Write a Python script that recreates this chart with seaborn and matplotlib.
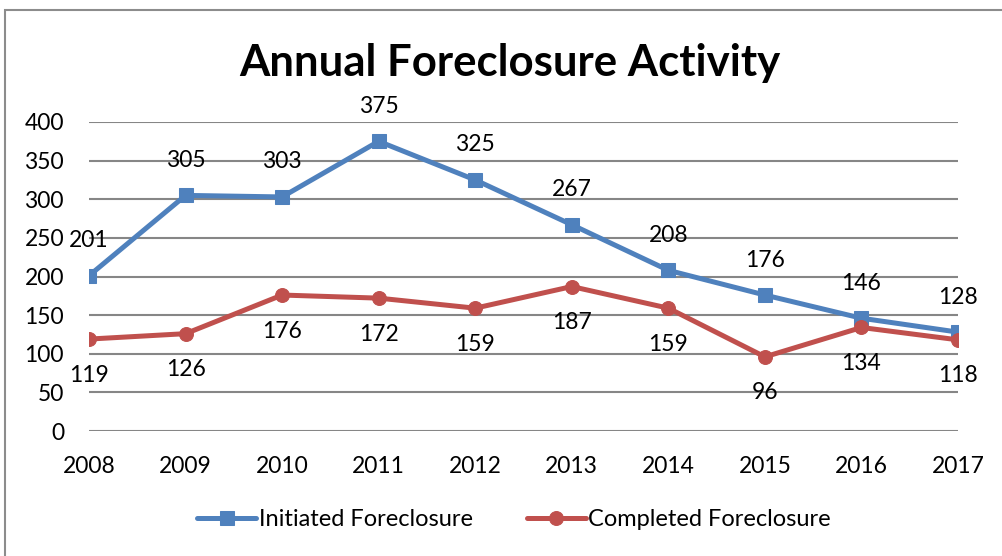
import pandas as pd
import matplotlib
matplotlib.use("Agg")
import matplotlib.pyplot as plt
import seaborn as sns
from matplotlib.patches import Rectangle

# chart data
years = ["2008", "2009", "2010", "2011", "2012", "2013", "2014", "2015", "2016", "2017"]
initiated = [201, 305, 303, 375, 325, 267, 208, 176, 146, 128]
completed = [119, 126, 176, 172, 159, 187, 159, 96, 134, 118]
y_ticks = [0, 50, 100, 150, 200, 250, 300, 350, 400]

df = pd.DataFrame({"pos": range(len(years)), "Initiated": initiated, "Completed": completed})

sns.set_style("white", {"text.color": "black", "xtick.color": "black", "ytick.color": "black"})
plt.rcParams["font.family"] = ["Lato", "DejaVu Sans"]

W, H = 1002, 556
fig = plt.figure(figsize=(W / 100, H / 100), dpi=100)
ax = fig.add_axes([89 / W, 1 - 431 / H, (958 - 89) / W, (431 - 122) / H])

blue = "#4F81BD"
red = "#C0504D"

sns.lineplot(data=df, x="pos", y="Initiated", ax=ax, color=blue, lw=3.6,
             marker="s", markersize=9.5, markeredgecolor=blue,
             label="Initiated Foreclosure", zorder=3)
sns.lineplot(data=df, x="pos", y="Completed", ax=ax, color=red, lw=3.6,
             marker="o", markersize=10, markeredgecolor=red,
             label="Completed Foreclosure", zorder=3)

ax.set_xlim(0, len(years) - 1)
ax.set_ylim(0, 400)
ax.set_yticks(y_ticks)
ax.set_xticks(range(len(years)))
ax.set_xticklabels(years)
ax.set_xlabel("")
ax.set_ylabel("")
ax.grid(axis="y", color="#868686", lw=1.5)
ax.set_axisbelow(True)
sns.despine(ax=ax, left=True, bottom=True)
ax.tick_params(axis="both", length=0, labelsize=16.5, labelcolor="black")
ax.tick_params(axis="y", pad=18)
ax.tick_params(axis="x", pad=18)

# data labels: initiated above, completed below
for i, v in enumerate(initiated):
    ax.annotate(str(v), (i, v), xytext=(0, 35), textcoords="offset pixels",
                ha="center", va="center", fontsize=16.5, color="black")
for i, v in enumerate(completed):
    ax.annotate(str(v), (i, v), xytext=(0, -36), textcoords="offset pixels",
                ha="center", va="center", fontsize=16.5, color="black")

fig.text(510 / W, 1 - 63 / H, "Annual Foreclosure Activity", ha="center", va="center",
         fontsize=31.5, fontweight="bold", color="black")

leg = ax.legend(loc="center", bbox_to_anchor=(0.513, 1 - 520 / H), bbox_transform=fig.transFigure,
                ncol=2, frameon=False, fontsize=17, handlelength=2.5, handletextpad=0.1,
                columnspacing=2.3, labelcolor="black")

# chart border (only left/top visible in the crop)
fig.add_artist(Rectangle((5 / W, -0.1), 2, 1.1 - 10 / H, transform=fig.transFigure,
                         fill=False, edgecolor="#8c8c8c", lw=1.5))

fig.savefig("out.png", dpi=100)
